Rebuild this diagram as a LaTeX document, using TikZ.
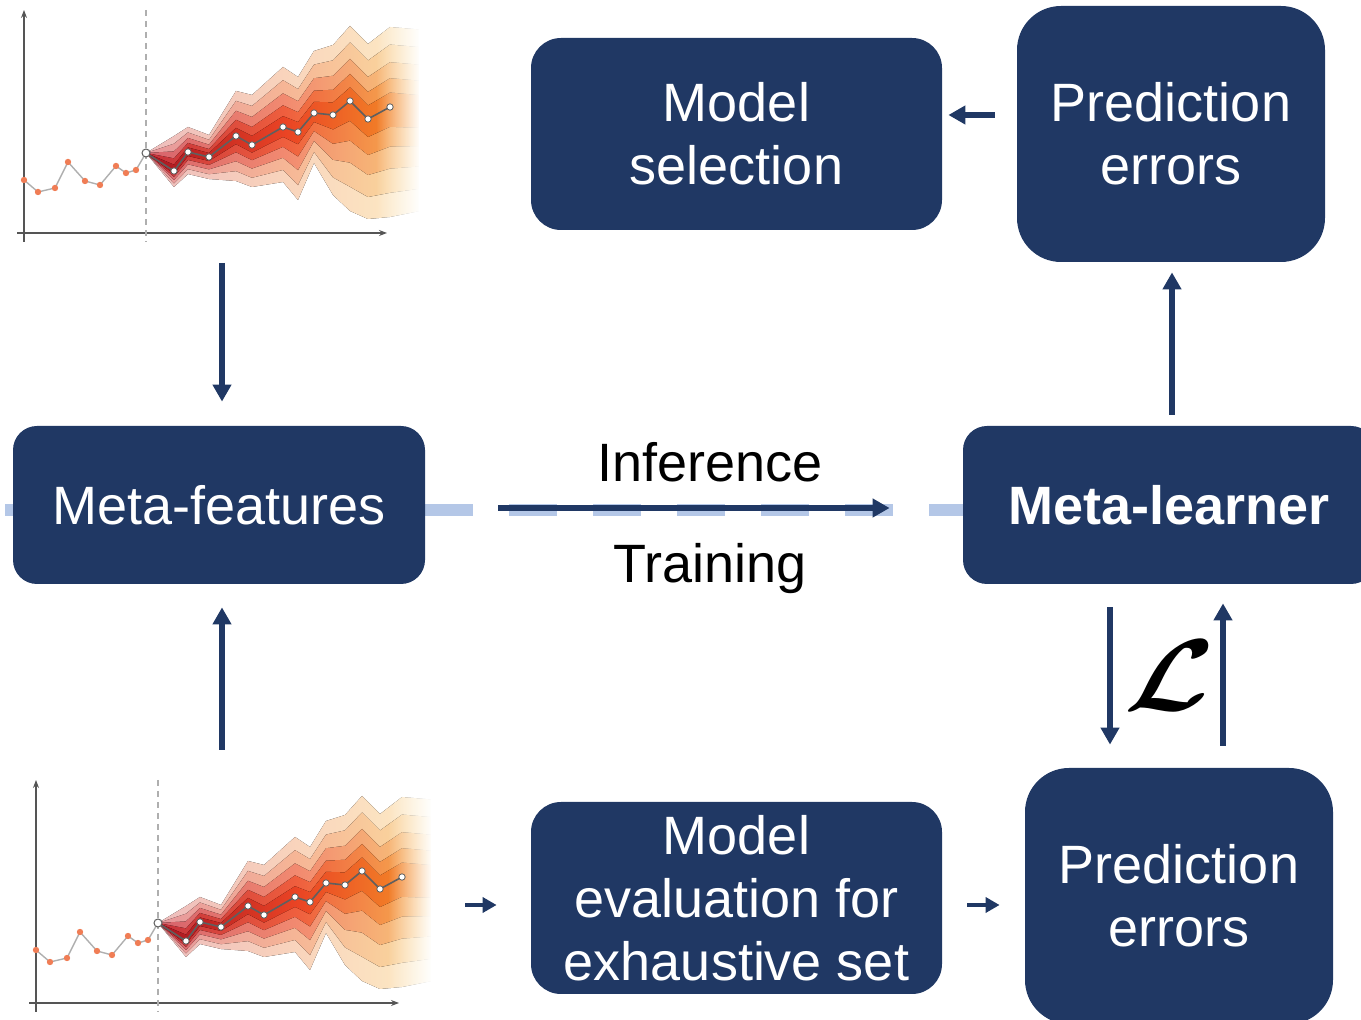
\documentclass[tikz,border=0pt]{standalone}
\usepackage{amsmath}
\usepackage{fontspec}
\setmainfont{Liberation Sans}
\usetikzlibrary{arrows.meta,backgrounds,fadings,calc}

\definecolor{navy}{RGB}{32,56,100}
\definecolor{dashblue}{RGB}{180,199,231}
\definecolor{axisgrey}{RGB}{85,85,85}
\definecolor{histgrey}{RGB}{175,175,175}
\definecolor{histdot}{RGB}{240,125,85}
\definecolor{fcgrey}{RGB}{95,95,95}
% fan colours: left / middle / right
\definecolor{fanAl}{RGB}{238,188,188}\definecolor{fanAm}{RGB}{249,212,188}\definecolor{fanAr}{RGB}{253,236,196}
\definecolor{fanBl}{RGB}{230,150,155}\definecolor{fanBm}{RGB}{246,182,150}\definecolor{fanBr}{RGB}{251,222,160}
\definecolor{fanCl}{RGB}{214,98,108}\definecolor{fanCm}{RGB}{242,138,112}\definecolor{fanCr}{RGB}{249,204,122}
\definecolor{fanDl}{RGB}{196,48,58}\definecolor{fanDm}{RGB}{239,95,62}\definecolor{fanDr}{RGB}{247,182,82}
\definecolor{fanEl}{RGB}{168,20,34}\definecolor{fanEm}{RGB}{234,68,36}\definecolor{fanEr}{RGB}{245,152,40}

\tikzset{
  box/.style={fill=navy, text=white, rounded corners=15pt, align=center, inner sep=0pt,
    font=\fontsize{27}{31.5}\selectfont},
  arr/.style={draw=navy, line width=3pt, -{Triangle[length=8.5pt,width=9pt]}},
  arrsmall/.style={draw=navy, line width=2.2pt, -{Triangle[length=7pt,width=7.5pt]}},
  dashline/.style={draw=dashblue, line width=6pt, dash pattern=on 24pt off 18pt},
  lbl/.style={inner sep=0pt, font=\fontsize{27}{31.5}\selectfont},
  fanchart/.pic={
    % bands of the fan, outer to inner
    \foreach \f/\cl/\cm/\cr in {1/fanAl/fanAm/fanAr, 0.78/fanBl/fanBm/fanBr,
        0.56/fanCl/fanCm/fanCr, 0.36/fanDl/fanDm/fanDr, 0.18/fanEl/fanEm/fanEr}{
      \fill[left color=\cl, right color=\cr, middle color=\cm] (146,153)
        -- (174,{171-35*\f}) -- (188,{152-25*\f}) -- (209,{157-22*\f}) -- (236,{136-45*\f})
        -- (252,{145-50*\f}) -- (283,{127-60*\f}) -- (298,{132-55*\f}) -- (314,{113-62*\f})
        -- (333,{115-70*\f}) -- (350,{101-75*\f}) -- (368,{119-75*\f}) -- (390,{107-80*\f})
        -- (425,{110-80*\f}) -- (425,{110+100*\f})
        -- (390,{107+110*\f}) -- (368,{119+100*\f}) -- (350,{101+110*\f}) -- (333,{115+80*\f})
        -- (314,{113+50*\f}) -- (298,{132+68*\f}) -- (283,{127+55*\f}) -- (252,{145+42*\f})
        -- (236,{136+45*\f}) -- (209,{157+22*\f}) -- (188,{152+22*\f}) -- (174,{171+16*\f}) -- cycle;
    }
    \fill[white, path fading=west] (376,0) rectangle (420,250);
    \fill[white] (419,0) rectangle (428,250);
    % axes
    \draw[axisgrey, line width=0.6pt, -{Stealth[length=4pt,width=3pt]}] (24,242) -- (24,10);
    \draw[axisgrey, line width=0.6pt, -{Stealth[length=4pt,width=3pt]}] (17,233) -- (387,233);
    \draw[histgrey, line width=0.6pt, dash pattern=on 3pt off 2.5pt] (146,10) -- (146,242);
    % history
    \draw[histgrey, line width=0.7pt] (24,180) -- (38,192) -- (55,188) -- (68,162) -- (85,181)
      -- (100,185) -- (116,166) -- (126,173) -- (136,170) -- (146,153);
    \foreach \p in {(24,180),(38,192),(55,188),(68,162),(85,181),(100,185),(116,166),(126,173),(136,170)}
      \fill[histdot] \p circle (1.6pt);
    % forecast
    \draw[fcgrey, line width=0.8pt] (146,153) -- (174,171) -- (188,152) -- (209,157) -- (236,136)
      -- (252,145) -- (283,127) -- (298,132) -- (314,113) -- (333,115) -- (350,101) -- (368,119) -- (390,107);
    \draw[fcgrey, fill=white, line width=0.5pt] (146,153) circle (2pt);
    \foreach \p in {(174,171),(188,152),(209,157),(236,136),(252,145),(283,127),(298,132),
        (314,113),(333,115),(350,101),(368,119),(390,107)}
      \draw[fcgrey, fill=white, line width=0.4pt] \p circle (1.6pt);
  }
}

\begin{document}
\begin{tikzpicture}[x=0.5pt, y=-0.5pt]
  \useasboundingbox (0,0) rectangle (1361,1020);
  \clip (0,0) rectangle (1361,1020);

  \pic at (0,0) {fanchart};
  \pic at (12,770) {fanchart};
  \coordinate (ctfoot) at (222,263);
  \coordinate (cbhead) at (222,750);
  \coordinate (cbend) at (437,905);

  \node[box, minimum width=205.5pt, minimum height=96pt] (msel) at (736.5,134) {Model\\selection};
  \node[box, minimum width=154pt, minimum height=128pt, rounded corners=22pt] (perrtop) at (1171,134) {Prediction\\errors};
  \node[box, minimum width=206pt, minimum height=79pt, rounded corners=12pt] (mfeat) at (219,505) {Meta-features};
  \node[box, minimum width=206pt, minimum height=79pt, rounded corners=12pt] (mlearn) at (1169,505) {\textbf{Meta-learner}};
  \node[box, minimum width=205.5pt, minimum height=96pt] (meval) at (736.5,898) {Model\\evaluation for\\exhaustive set};
  \node[box, minimum width=154pt, minimum height=128pt, rounded corners=22pt] (perrbot) at (1179,896) {Prediction\\errors};

  \begin{scope}[on background layer]
    \draw[dashline] (-79,510) -- ([yshift=-2.5pt]mlearn.west);
  \end{scope}

  \draw[arr] (ctfoot) -- (ctfoot |- mfeat.north) [shorten >=12pt];
  \draw[arr] (cbhead) -- (cbhead |- mfeat.south) [shorten >=11.5pt];
  \draw[arr, shorten <=36.5pt, shorten >=36.5pt] ([yshift=-1.5pt]mfeat.east) -- ([yshift=-1.5pt]mlearn.west)
    node[lbl, midway, above=11.5pt, xshift=8pt] {Inference}
    node[lbl, midway, below=16pt, xshift=8pt] {Training};
  \draw[arr, shorten <=5.5pt, shorten >=5pt] ([xshift=1.5pt]mlearn.north) -- ([xshift=1.5pt]mlearn.north |- perrtop.south);
  \draw[arr, shorten <=11pt, shorten >=3pt] ([yshift=9.5pt]perrtop.west) -- ([yshift=9.5pt]perrtop.west -| msel.east);
  \draw[arr, shorten <=11.5pt, shorten >=11.5pt] ([xshift=-29.5pt]mlearn.south) -- ([xshift=-29.5pt]mlearn.south |- perrbot.north);
  \draw[arr, shorten <=11pt, shorten >=9.5pt] ([xshift=22pt]perrbot.north) -- ([xshift=22pt]perrbot.north |- mlearn.south);
  \draw[arrsmall, shorten <=14pt, shorten >=17pt] (cbend) -- (cbend -| meval.west);
  \draw[arrsmall, shorten <=12.5pt, shorten >=12.5pt] ([yshift=-3.5pt]meval.east) -- ([yshift=-3.5pt]meval.east -| perrbot.west);

  \node[inner sep=0pt, font=\Huge, scale=2.05, xslant=0.22, transform shape] (loss) at ($(mlearn.south)!0.5!(perrbot.north)+(-2,0)$) {$\boldsymbol{\mathcal{L}}$};
\end{tikzpicture}
\end{document}
